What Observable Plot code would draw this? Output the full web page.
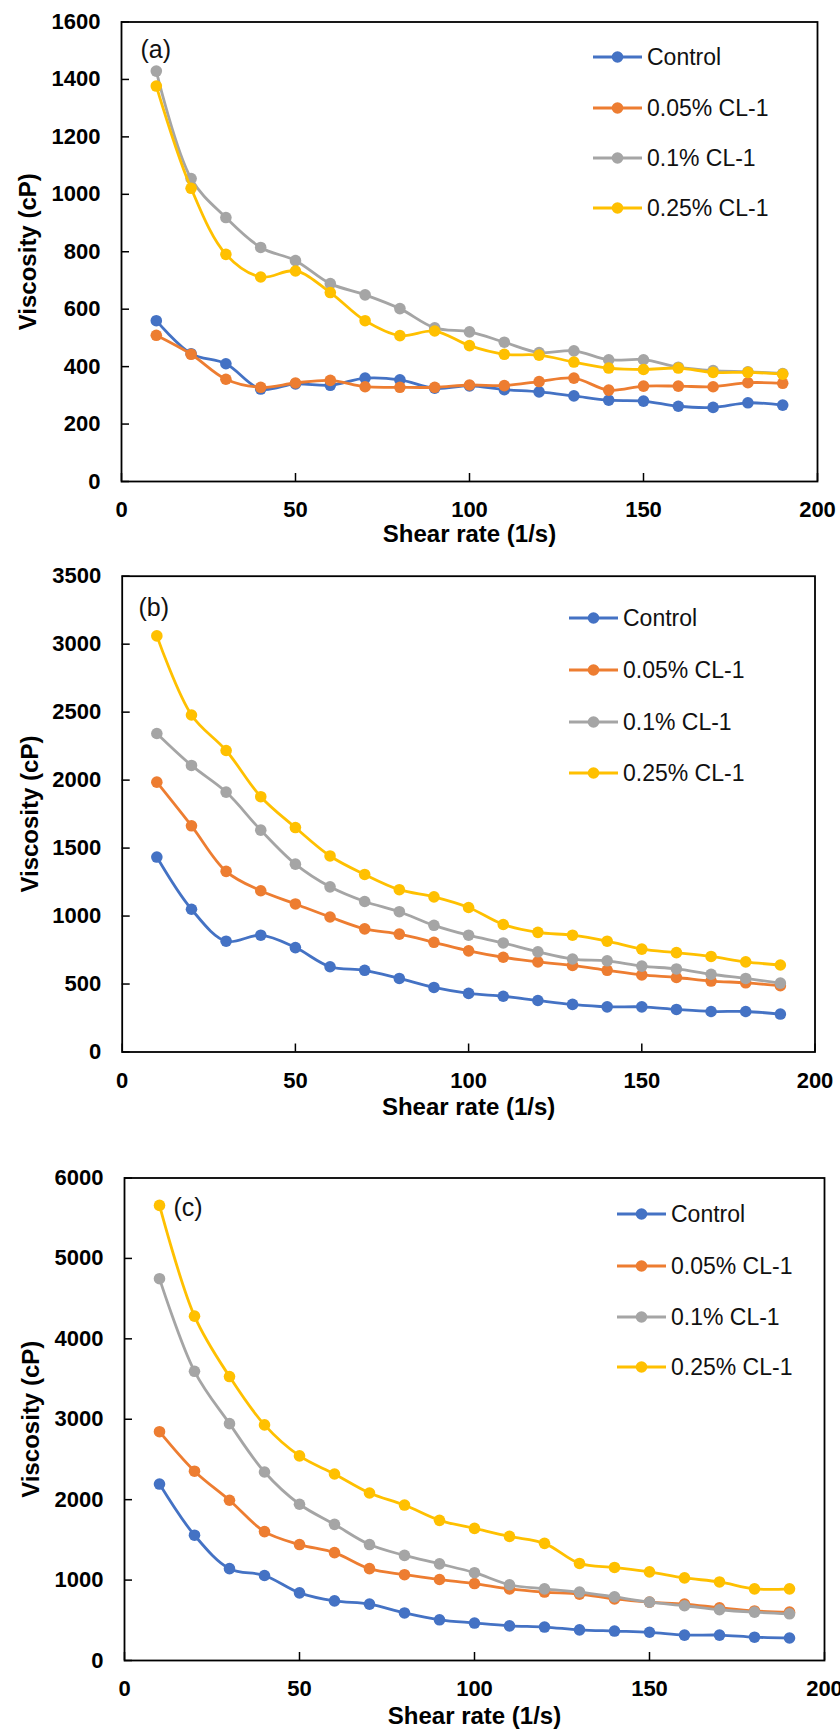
<!DOCTYPE html>
<html><head><meta charset="utf-8">
<script src="https://cdn.jsdelivr.net/npm/d3@7"></script>
<script src="https://cdn.jsdelivr.net/npm/@observablehq/plot@0.6"></script>
<style>
body{margin:0;background:#fff;}
#chart svg{display:block;}
</style></head><body><div id="chart"></div>
<script>
const shearRate = [10,20,30,40,50,60,70,80,90,100,110,120,130,140,150,160,170,180,190];
const seriesNames = ["Control","0.05% CL-1","0.1% CL-1","0.25% CL-1"];
const seriesColors = ["#4472C4","#ED7D31","#A5A5A5","#FFC000"];
const xTicks = [0,50,100,150,200];

// Panel (a)
const aControl = [560,445,410,322,340,335,360,354,325,333,320,312,298,283,280,262,258,274,266];
const aCL005   = [509,443,356,328,343,352,330,328,328,336,334,348,360,318,332,332,330,344,342];
const aCL01    = [1429,1055,919,815,769,689,650,602,535,521,485,449,455,424,424,398,386,382,376];
const aCL025   = [1377,1021,791,712,733,658,560,508,524,473,443,440,416,395,390,395,380,380,374];
const aYTicks  = [0,200,400,600,800,1000,1200,1400,1600];

// Panel (b)
const bControl = [1434,1050,815,859,768,627,601,541,475,431,410,379,350,332,332,313,298,298,279];
const bCL005   = [1985,1664,1329,1186,1089,993,906,867,807,744,697,663,637,601,567,548,522,509,488];
const bCL01    = [2343,2108,1912,1632,1382,1215,1107,1032,932,859,802,737,684,671,632,611,572,541,507];
const bCL025   = [3061,2479,2218,1878,1651,1442,1306,1194,1141,1063,938,880,859,815,757,731,703,663,640];
const bYTicks  = [0,500,1000,1500,2000,2500,3000,3500];

// Panel (c)
const cControl = [2194,1558,1142,1057,841,741,701,591,506,466,431,416,381,366,351,316,316,290,280];
const cCL005   = [2845,2354,1993,1603,1442,1342,1142,1067,1007,957,891,851,826,766,726,701,656,616,601];
const cCL01    = [4748,3596,2945,2344,1943,1693,1442,1307,1202,1092,942,891,851,791,726,681,631,601,581];
const cCL025   = [5659,4282,3531,2930,2544,2319,2083,1933,1743,1643,1543,1457,1207,1157,1102,1027,977,891,891];
const cYTicks  = [0,1000,2000,3000,4000,5000,6000];

const FONT = "'Liberation Sans', Arial, Helvetica, sans-serif";

function panel(cfg) {
  const W = 840;
  const plotW = W - cfg.ml - cfg.mr;
  const plotH = cfg.h - cfg.mt - cfg.mb;
  const rows = [];
  cfg.series.forEach((vals, si) => vals.forEach((v, i) => rows.push({x: shearRate[i], v, s: seriesNames[si]})));
  const marks = [
    Plot.frame({stroke: "#000", strokeWidth: 1.8}),
    Plot.tickY(cfg.yTicks, {y: d => d, insetRight: plotW - 8, stroke: "#000", strokeWidth: 1.5}),
    Plot.tickX(xTicks, {x: d => d, insetTop: plotH - 8, stroke: "#000", strokeWidth: 1.5}),
    Plot.axisY(cfg.yTicks, {tickSize: 0, tickPadding: 21, tickFormat: d => String(d), fontSize: 22, fontWeight: "bold", fill: "#000", label: null}),
    Plot.axisX(xTicks, {tickSize: 0, tickPadding: 20, tickFormat: d => String(d), fontSize: 22, fontWeight: "bold", fill: "#000", label: null}),
    Plot.text(["Shear rate (1/s)"], {frameAnchor: "bottom", lineAnchor: "middle", textAnchor: "middle", dy: cfg.xtDy, fontSize: 24, fontWeight: "bold", fill: "#000"}),
    Plot.text(["Viscosity (cP)"], {frameAnchor: "left", rotate: -90, textAnchor: "middle", lineAnchor: "middle", dx: cfg.ytDx, fontSize: 24, fontWeight: "bold", fill: "#000"}),
    Plot.text([cfg.tag], {frameAnchor: "top-left", textAnchor: "start", lineAnchor: "middle", dx: cfg.tagDx, dy: cfg.tagDy, fontSize: 25, fill: "#111"})
  ];
  seriesNames.forEach((name, si) => {
    const d = rows.filter(r => r.s === name);
    marks.push(Plot.line(d, {x: "x", y: "v", stroke: seriesColors[si], strokeWidth: 2.8, curve: "catmull-rom"}));
    marks.push(Plot.dot(d, {x: "x", y: "v", fill: seriesColors[si], r: 5.8}));
  });
  const svg = Plot.plot({
    width: W, height: cfg.h,
    marginTop: cfg.mt, marginBottom: cfg.mb, marginLeft: cfg.ml, marginRight: cfg.mr,
    x: {domain: [0, 200], axis: null},
    y: {domain: [0, cfg.yTicks[cfg.yTicks.length - 1]], axis: null},
    style: {fontFamily: FONT, background: "#fff", overflow: "visible"},
    marks
  });
  // legend
  const g = d3.select(svg).append("g").attr("font-family", FONT).attr("text-anchor", "start");
  seriesNames.forEach((name, si) => {
    const y = cfg.legY[si];
    const e = g.append("g");
    e.append("line").attr("x1", cfg.legX0).attr("x2", cfg.legX0 + 49).attr("y1", y).attr("y2", y)
      .attr("stroke", seriesColors[si]).attr("stroke-width", 2.8);
    e.append("circle").attr("cx", cfg.legX0 + 24.5).attr("cy", y).attr("r", 5.8).attr("fill", seriesColors[si]);
    e.append("text").attr("x", cfg.legX0 + 54).attr("y", y).attr("dy", "0.35em")
      .attr("text-anchor", "start").attr("font-size", 23).attr("fill", "#111").text(name);
  });
  return svg;
}

const chart = document.getElementById("chart");
chart.appendChild(panel({
  h: 550, mt: 21.5, mb: 69, ml: 121, mr: 23,
  yTicks: aYTicks, series: [aControl, aCL005, aCL01, aCL025],
  xtDy: 53, ytDx: -93, tag: "(a)", tagDx: 19, tagDy: 27.5,
  legX0: 593, legY: [57, 108, 158, 208]
}));
chart.appendChild(panel({
  h: 590, mt: 25.7, mb: 88.5, ml: 121.7, mr: 25.5,
  yTicks: bYTicks, series: [bControl, bCL005, bCL01, bCL025],
  xtDy: 55, ytDx: -92, tag: "(b)", tagDx: 16.3, tagDy: 31.3,
  legX0: 569, legY: [68, 120, 172, 223]
}));
chart.appendChild(panel({
  h: 593, mt: 37.5, mb: 73, ml: 124, mr: 16,
  yTicks: cYTicks, series: [cControl, cCL005, cCL01, cCL025],
  xtDy: 56, ytDx: -93, tag: "(c)", tagDx: 49, tagDy: 29.5,
  legX0: 617, legY: [74, 126, 177, 227]
}));
</script></body></html>
